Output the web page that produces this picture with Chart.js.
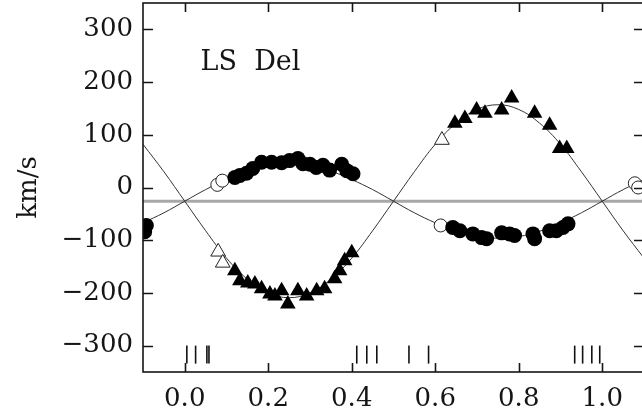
<!DOCTYPE html>
<html><head><meta charset="utf-8">
<script src="https://cdn.jsdelivr.net/npm/chart.js@4.4.1/dist/chart.umd.min.js"></script>
<style>
html,body{margin:0;padding:0;overflow:hidden;background:#fff;}
#wrap{width:648px;height:420px;position:relative;}
</style></head><body>
<div id="wrap"><canvas id="c"></canvas></div>
<script>
// ---- data ----
const xTickValues = [0.0, 0.2, 0.4, 0.6, 0.8, 1.0];
const xTickLabels = ['0.0', '0.2', '0.4', '0.6', '0.8', '1.0'];
const yTickValues = [-300, -200, -100, 0, 100, 200, 300];
const yTickLabels = ['\u2212300', '\u2212200', '\u2212100', '0', '100', '200', '300'];

const curvePhase = [-0.10,-0.05,0.00,0.05,0.10,0.15,0.20,0.25,0.30,0.35,0.40,0.45,0.50,0.55,0.60,0.65,0.70,0.75,0.80,0.85,0.90,0.95,1.00,1.05,1.10];
const primaryCurve = [-67,-48,-26,-4,15,31,41,44,41,31,15,-4,-26,-48,-67,-83,-93,-96,-93,-83,-67,-48,-26,-4,15];
const secondaryCurve = [82,30,-26,-82,-134,-174,-200,-209,-200,-174,-134,-82,-26,30,82,122,148,157,148,122,82,30,-26,-82,-134];

const gammaPhase = [-0.1, 1.1];
const gammaVel = [-26, -26];

const primFilledPhase = [0.120,0.132,0.148,0.163,0.184,0.208,0.232,0.251,0.271,0.283,0.300,0.315,0.331,0.347,0.376,0.388,0.403,
  0.642,0.659,0.690,0.711,0.723,0.759,0.778,0.790,0.834,0.838,0.874,0.890,0.906,0.918,-0.092,-0.096];
const primFilledVel = [19,23,27,36,48,48,47,51,55,45,44,38,42,33,44,32,26,
  -76,-82,-88,-95,-97,-86,-88,-91,-88,-97,-82,-82,-76,-69,-72,-84];

const primOpenPhase = [0.078,0.090,0.613,1.078,1.086];
const primOpenVel = [5,13,-72,8,0];

const secFilledPhase = [0.120,0.132,0.151,0.168,0.184,0.204,0.216,0.232,0.247,0.271,0.292,0.316,0.335,0.359,0.371,0.383,0.400,
  0.647,0.671,0.699,0.719,0.759,0.783,0.838,0.874,0.898,0.915];
const secFilledVel = [-158,-177,-181,-183,-192,-202,-206,-196,-221,-196,-206,-196,-192,-173,-158,-139,-124,
  122,131,147,141,147,170,141,118,74,74];

const secOpenPhase = [0.080,0.091,0.616];
const secOpenVel = [-122,-143,90];

const markPhase = [0.005,0.026,0.053,0.058,0.412,0.436,0.460,0.537,0.584,0.934,0.953,0.975,0.994];
const markVel = -317;

const labelText = 'LS  Del';
const labelAnchor = {x: 0.038, y: 222};

// ---- helpers ----
const pts = (xs, ys) => xs.map((x, i) => ({x, y: Array.isArray(ys) ? ys[i] : ys}));
const FONT = "'DejaVu Serif'";
const INK = '#151515';

const frameTicks = {
  id: 'frameTicks',
  afterDatasetsDraw(chart) {
    const {ctx, chartArea: a, scales: {x, y}} = chart;
    ctx.save();
    ctx.strokeStyle = INK;
    ctx.lineWidth = 1.6;
    ctx.strokeRect(a.left, a.top, a.right - a.left, a.bottom - a.top);
    ctx.beginPath();
    xTickValues.forEach(v => {
      const px = Math.round(x.getPixelForValue(v)) + 0.5;
      ctx.moveTo(px, a.bottom); ctx.lineTo(px, a.bottom - 9);
      ctx.moveTo(px, a.top); ctx.lineTo(px, a.top + 9);
    });
    yTickValues.forEach(v => {
      const py = Math.round(y.getPixelForValue(v)) + 0.5;
      ctx.moveTo(a.left, py); ctx.lineTo(a.left + 10, py);
      ctx.moveTo(a.right, py); ctx.lineTo(a.right - 10, py);
    });
    ctx.stroke();
    ctx.fillStyle = INK;
    ctx.font = '27px ' + FONT;
    ctx.textBaseline = 'alphabetic';
    ctx.textAlign = 'left';
    ctx.fillText(labelText, x.getPixelForValue(labelAnchor.x), y.getPixelForValue(labelAnchor.y));
    ctx.restore();
  }
};

new Chart(document.getElementById('c'), {
  type: 'scatter',
  data: {
    datasets: [
      {data: pts(primFilledPhase, primFilledVel), pointStyle: 'circle', pointRadius: 7.5,
        backgroundColor: '#000', borderColor: '#000', borderWidth: 0, order: 1},
      {data: pts(primOpenPhase, primOpenVel), pointStyle: 'circle', pointRadius: 6.5,
        backgroundColor: '#fff', borderColor: '#222', borderWidth: 1, order: 1},
      {data: pts(secFilledPhase, secFilledVel), pointStyle: 'triangle', pointRadius: 9,
        backgroundColor: '#000', borderColor: '#000', borderWidth: 0, order: 1},
      {data: pts(secOpenPhase, secOpenVel), pointStyle: 'triangle', pointRadius: 8.5,
        backgroundColor: '#fff', borderColor: '#222', borderWidth: 1, order: 1},
      {data: pts(markPhase, markVel), pointStyle: 'line', rotation: 90, pointRadius: 9,
        borderColor: '#111', borderWidth: 1.6, order: 1},
      {data: pts(curvePhase, primaryCurve), showLine: true, pointRadius: 0, tension: 0.4,
        borderColor: '#333', borderWidth: 1, order: 2},
      {data: pts(curvePhase, secondaryCurve), showLine: true, pointRadius: 0, tension: 0.4,
        borderColor: '#333', borderWidth: 1, order: 2},
      {data: pts(gammaPhase, gammaVel), showLine: true, pointRadius: 0,
        borderColor: '#a8a8a8', borderWidth: 3, order: 3}
    ]
  },
  options: {
    responsive: true,
    maintainAspectRatio: false,
    animation: false,
    events: [],
    layout: {autoPadding: false, padding: {top: 3, right: 4, left: 0, bottom: 0}},
    plugins: {legend: {display: false}, tooltip: {enabled: false}},
    scales: {
      x: {
        type: 'linear', min: -0.1, max: 1.1,
        grid: {display: false, drawTicks: false},
        border: {display: false},
        afterBuildTicks: s => { s.ticks = xTickValues.map(v => ({value: v})); },
        afterFit: s => { s.height = 48; s.paddingLeft = 0; s.paddingRight = 0; s.paddingTop = 0; s.paddingBottom = 0; },
        ticks: {autoSkip: false, maxRotation: 0, padding: 12, color: INK,
          font: {family: FONT, size: 26},
          callback: (v, i) => xTickLabels[i]}
      },
      y: {
        type: 'linear', min: -350, max: 350,
        grid: {display: false, drawTicks: false},
        border: {display: false},
        afterBuildTicks: s => { s.ticks = yTickValues.map(v => ({value: v})); },
        afterFit: s => { s.width = 143; s.paddingTop = 0; s.paddingBottom = 0; s.paddingLeft = 0; s.paddingRight = 0; },
        title: {display: true, text: 'km/s', color: INK, font: {family: FONT, size: 26},
          padding: {top: 14, bottom: 0}},
        ticks: {autoSkip: false, padding: 10, color: INK,
          font: {family: FONT, size: 26},
          callback: (v, i) => yTickLabels[i]}
      }
    }
  },
  plugins: [frameTicks]
});
</script>
</body></html>
